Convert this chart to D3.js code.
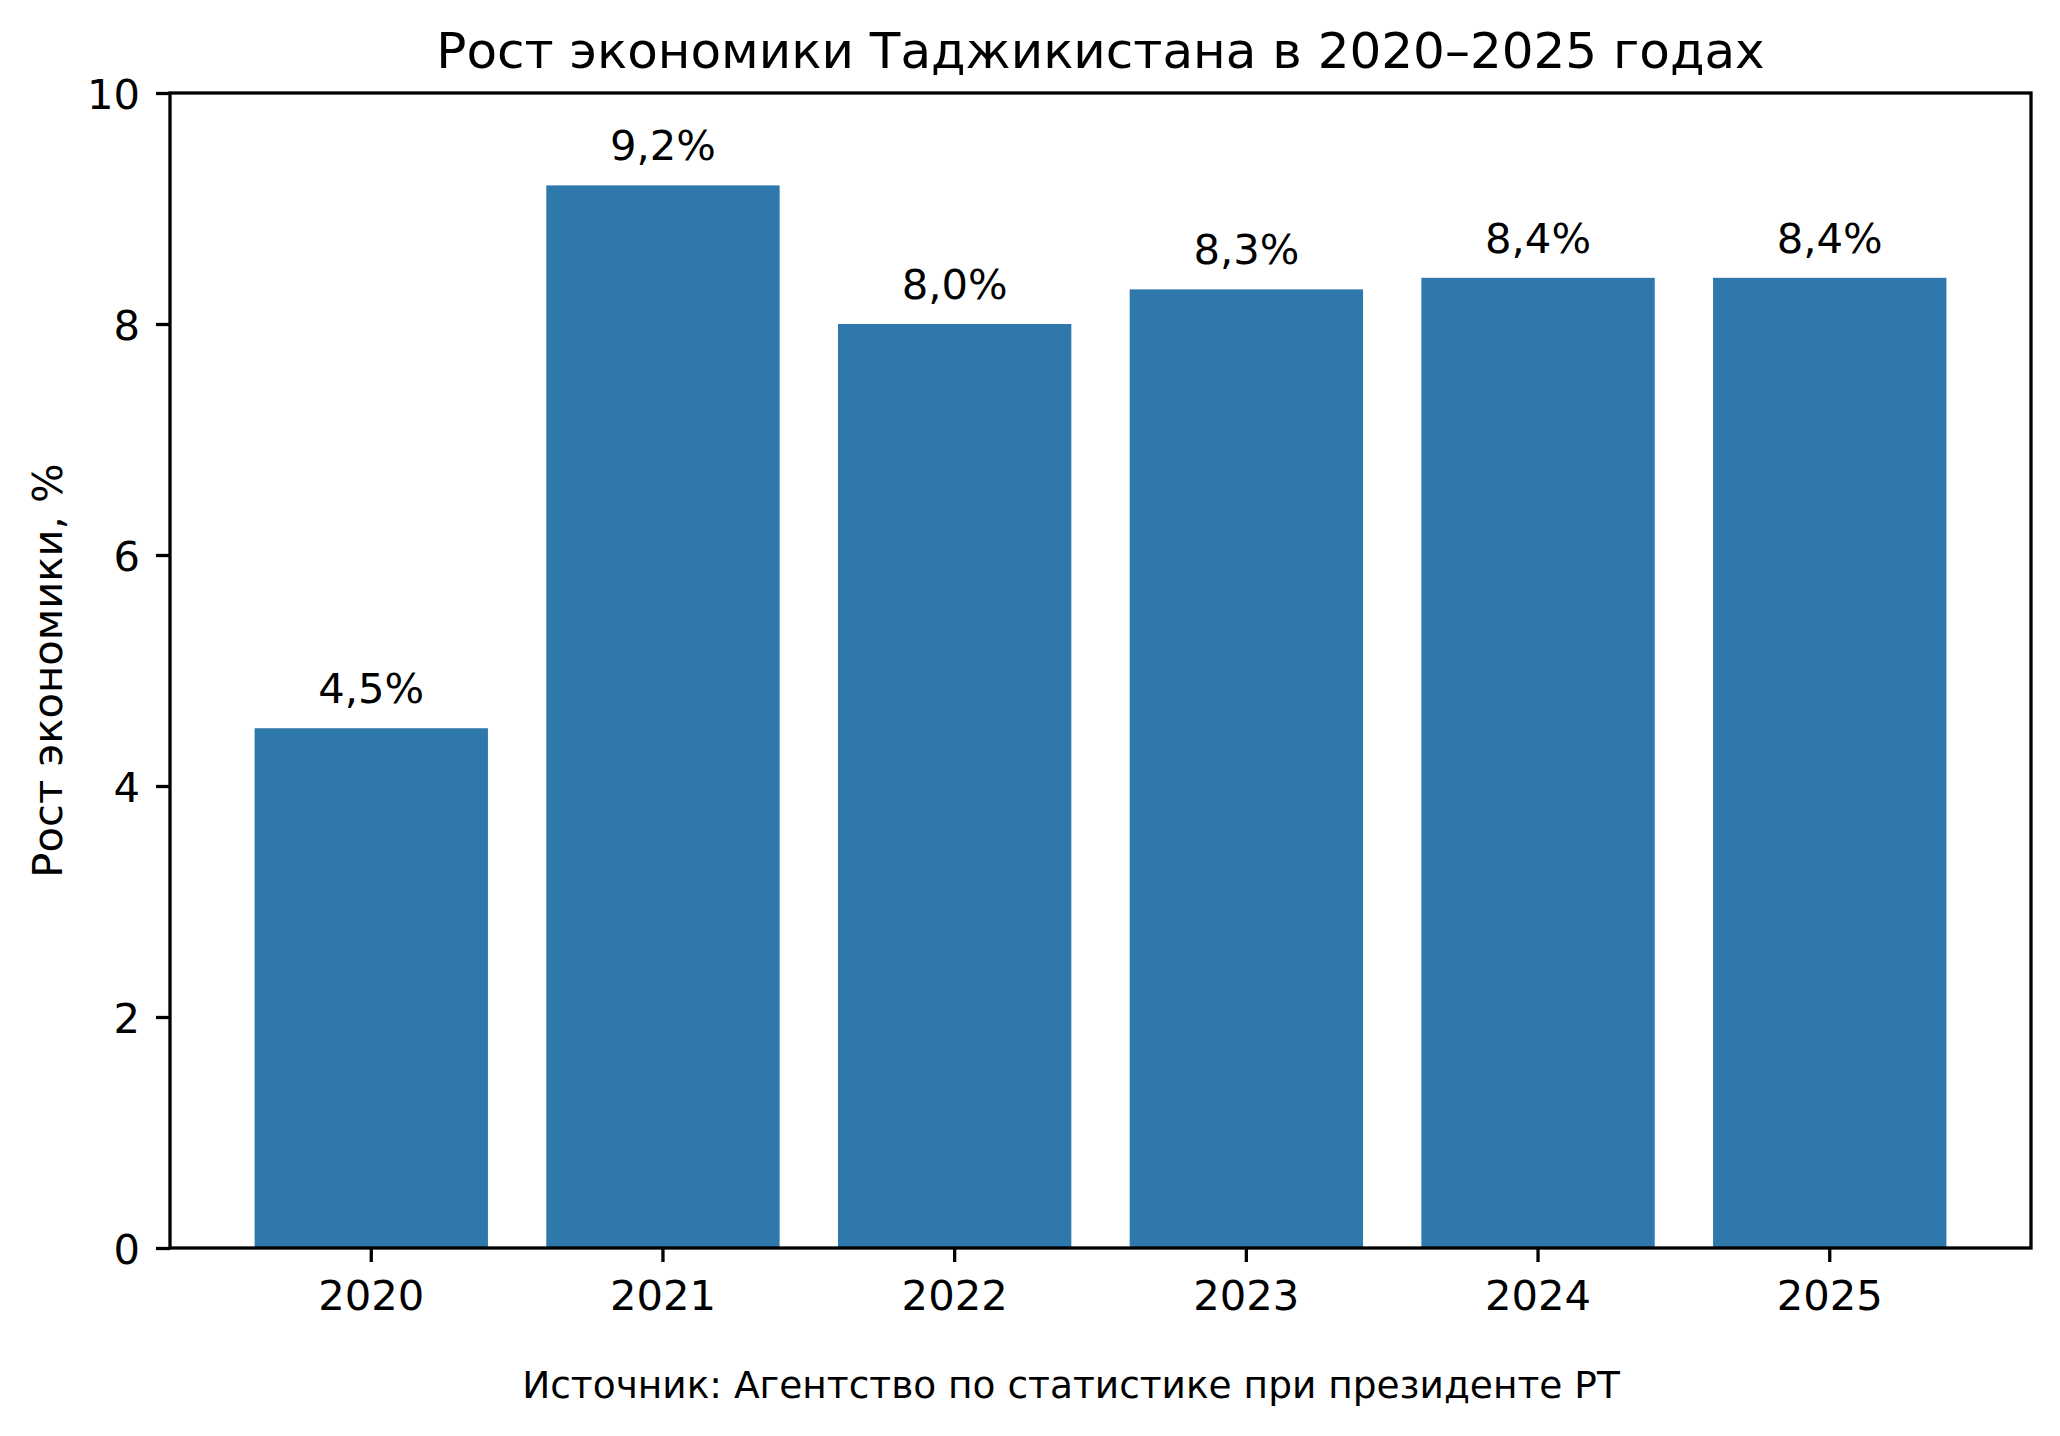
<!DOCTYPE html>
<html>
<head>
<meta charset="utf-8">
<script src="https://cdn.jsdelivr.net/npm/d3@7"></script>
<style>
  body { margin: 0; background: #fff; }
  text { font-family: "DejaVu Sans", sans-serif; fill: #000; }
</style>
</head>
<body>
<div id="chart"></div>
<script>
// data
var years = ["2020", "2021", "2022", "2023", "2024", "2025"];
var growth = [4.5, 9.2, 8.0, 8.3, 8.4, 8.4];
var yTicks = [0, 2, 4, 6, 8, 10];

var title = "Рост экономики Таджикистана в 2020–2025 годах";
var yLabel = "Рост экономики, %";
var source = "Источник: Агентство по статистике при президенте РТ";

var width = 2060,
    height = 1436;

var plot = {left: 170, right: 2031, top: 93, bottom: 1248};

var ruFormat = d3.formatLocale({decimal: ",", thousands: " ", grouping: [3], currency: ["", ""]}).format(".1f");

var svg = d3.select("#chart").append("svg")
    .attr("width", width)
    .attr("height", height);

var x = d3.scaleBand()
    .domain(years)
    .range([plot.left, plot.right])
    .paddingInner(0.2)
    .paddingOuter(0.29);

var y = d3.scaleLinear()
    .domain([0, 10])
    .range([plot.bottom, plot.top]);

// bars
svg.selectAll("rect.bar").data(growth).enter().append("rect")
    .attr("class", "bar")
    .attr("x", function(d, i) { return x(years[i]); })
    .attr("width", x.bandwidth())
    .attr("y", function(d) { return y(d); })
    .attr("height", function(d) { return y(0) - y(d); })
    .attr("fill", "#2e78ac");

// value labels
svg.selectAll("text.val").data(growth).enter().append("text")
    .attr("class", "val")
    .attr("x", function(d, i) { return x(years[i]) + x.bandwidth() / 2; })
    .attr("y", function(d) { return y(d) - 25; })
    .attr("text-anchor", "middle")
    .attr("font-size", "41.7px")
    .text(function(d) { return ruFormat(d) + "%"; });

// axes
var xAxis = d3.axisBottom(x).tickSize(14).tickSizeOuter(0).tickPadding(18);
var yAxis = d3.axisLeft(y).tickValues(yTicks).tickSize(14).tickSizeOuter(0).tickPadding(16);

var gx = svg.append("g")
    .attr("transform", "translate(0," + plot.bottom + ")")
    .call(xAxis);

var gy = svg.append("g")
    .attr("transform", "translate(" + plot.left + ",0)")
    .call(yAxis);

[gx, gy].forEach(function(g) {
  g.selectAll("text")
    .attr("font-size", "41.7px")
    .attr("font-family", "DejaVu Sans")
    .attr("fill", "#000");
  g.selectAll("line").attr("stroke", "#000").attr("stroke-width", 3.3);
  g.select(".domain").remove();
});
gy.selectAll("text").attr("dy", "0.36em");

// frame
svg.append("rect")
    .attr("x", plot.left)
    .attr("y", plot.top)
    .attr("width", plot.right - plot.left)
    .attr("height", plot.bottom - plot.top)
    .attr("fill", "none")
    .attr("stroke", "#000")
    .attr("stroke-width", 3.3);

// title
svg.append("text")
    .attr("x", (plot.left + plot.right) / 2)
    .attr("y", 68)
    .attr("text-anchor", "middle")
    .attr("font-size", "50px")
    .text(title);

// y label
svg.append("text")
    .attr("transform", "translate(62," + (plot.top + plot.bottom) / 2 + ") rotate(-90)")
    .attr("text-anchor", "middle")
    .attr("font-size", "41.7px")
    .text(yLabel);

// source
svg.append("text")
    .attr("x", 1071)
    .attr("y", 1398)
    .attr("text-anchor", "middle")
    .attr("font-size", "37.5px")
    .text(source);
</script>
</body>
</html>
